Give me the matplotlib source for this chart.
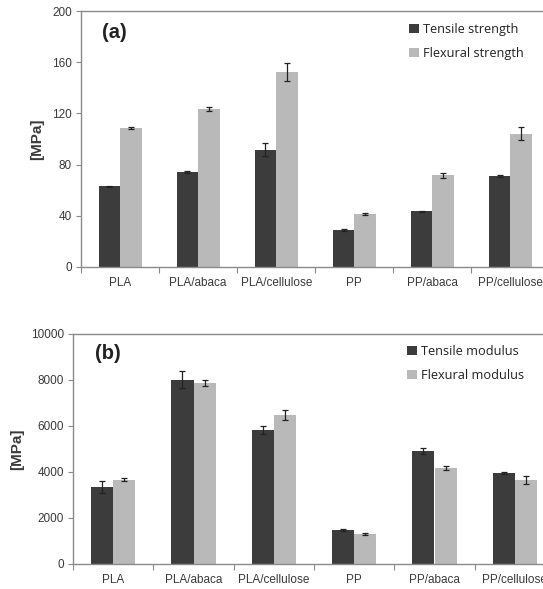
import matplotlib
matplotlib.use("Agg")
import matplotlib.pyplot as plt
import numpy as np

# data
materials = ["PLA", "PLA/abaca", "PLA/cellulose", "PP", "PP/abaca", "PP/cellulose"]

tensile_strength = [63, 74, 91.5, 29, 43.5, 71]
tensile_strength_err = [0.6, 0.8, 5, 0.5, 0.5, 0.8]
flexural_strength = [108.5, 123.5, 152, 41.5, 71.5, 104]
flexural_strength_err = [1, 1.8, 7, 0.8, 1.8, 5]

tensile_modulus = [3350, 8020, 5830, 1480, 4910, 3970]
tensile_modulus_err = [260, 350, 170, 40, 130, 40]
flexural_modulus = [3670, 7880, 6490, 1300, 4180, 3650]
flexural_modulus_err = [50, 140, 220, 60, 90, 190]

DARK = "#3c3c3c"
LIGHT = "#b9b9b9"
GREY = "#8a8a8a"
TXT = "#3a3a3a"


def bar_panel(ax, v1, e1, v2, e2, labels, ymax, ystep, tag, legend_anchor):
    x = np.arange(len(materials))
    w = 0.275
    err_kw = dict(ecolor="#222222", elinewidth=0.9, capsize=2.3, capthick=0.9)
    b1 = ax.bar(x - w / 2, v1, w, yerr=e1, color=DARK, error_kw=err_kw, label=labels[0])
    b2 = ax.bar(x + w / 2, v2, w, yerr=e2, color=LIGHT, error_kw=err_kw, label=labels[1])

    ax.set_xlim(-0.5, len(materials) - 0.5)
    ax.set_ylim(0, ymax)
    ax.set_yticks(np.arange(0, ymax + 1, ystep))
    ax.set_xticks(x)
    ax.set_xticklabels(materials)
    ax.set_xticks(np.arange(-0.5, len(materials)), minor=True)
    ax.tick_params(axis="x", which="major", length=0, pad=7, labelsize=8.5, labelcolor=TXT)
    ax.tick_params(axis="x", which="minor", length=4, color=GREY, width=0.8, direction="out")
    ax.tick_params(axis="y", length=3.5, color=GREY, width=0.8, pad=3, labelsize=8.5, labelcolor=TXT)

    for s in ["left", "bottom", "top"]:
        ax.spines[s].set_color(GREY)
        ax.spines[s].set_linewidth(1.0)
    ax.spines["right"].set_visible(False)

    ax.set_ylabel("[MPa]", fontsize=11, fontweight="bold", color=TXT, family="Liberation Sans")
    ax.text(0.045, 0.915, tag, transform=ax.transAxes, fontsize=14.5, fontweight="bold",
            color="#222222", va="center", ha="left", family="Liberation Sans")

    leg = ax.legend(handles=[b1, b2], loc="upper left", bbox_to_anchor=legend_anchor,
                    bbox_transform=ax.figure.transFigure, frameon=False,
                    handlelength=0.8, handleheight=0.8, handletextpad=0.3,
                    labelspacing=0.85, borderpad=0, borderaxespad=0,
                    prop={"family": "Open Sans", "size": 9.2})
    for t in leg.get_texts():
        t.set_color("#222222")


fig = plt.figure(figsize=(5.43, 5.89), dpi=100)

ax1 = fig.add_axes([81 / 543, 1 - 267 / 589, 468.5 / 543, 256 / 589])
bar_panel(ax1, tensile_strength, tensile_strength_err, flexural_strength, flexural_strength_err,
          ["Tensile strength", "Flexural strength"], 200, 40, "(a)", (409 / 543, 1 - 23 / 589))
ax1.yaxis.set_label_coords(-0.078, 0.5)

ax2 = fig.add_axes([73 / 543, 1 - 564 / 589, 482 / 543, 230 / 589])
bar_panel(ax2, tensile_modulus, tensile_modulus_err, flexural_modulus, flexural_modulus_err,
          ["Tensile modulus", "Flexural modulus"], 10000, 2000, "(b)", (407 / 543, 1 - 345 / 589))
ax2.yaxis.set_label_coords(-0.102, 0.5)

for t in ax1.get_yticklabels() + ax2.get_yticklabels() + ax1.get_xticklabels() + ax2.get_xticklabels():
    t.set_family("Liberation Sans")

fig.savefig("out.png", dpi=100)
